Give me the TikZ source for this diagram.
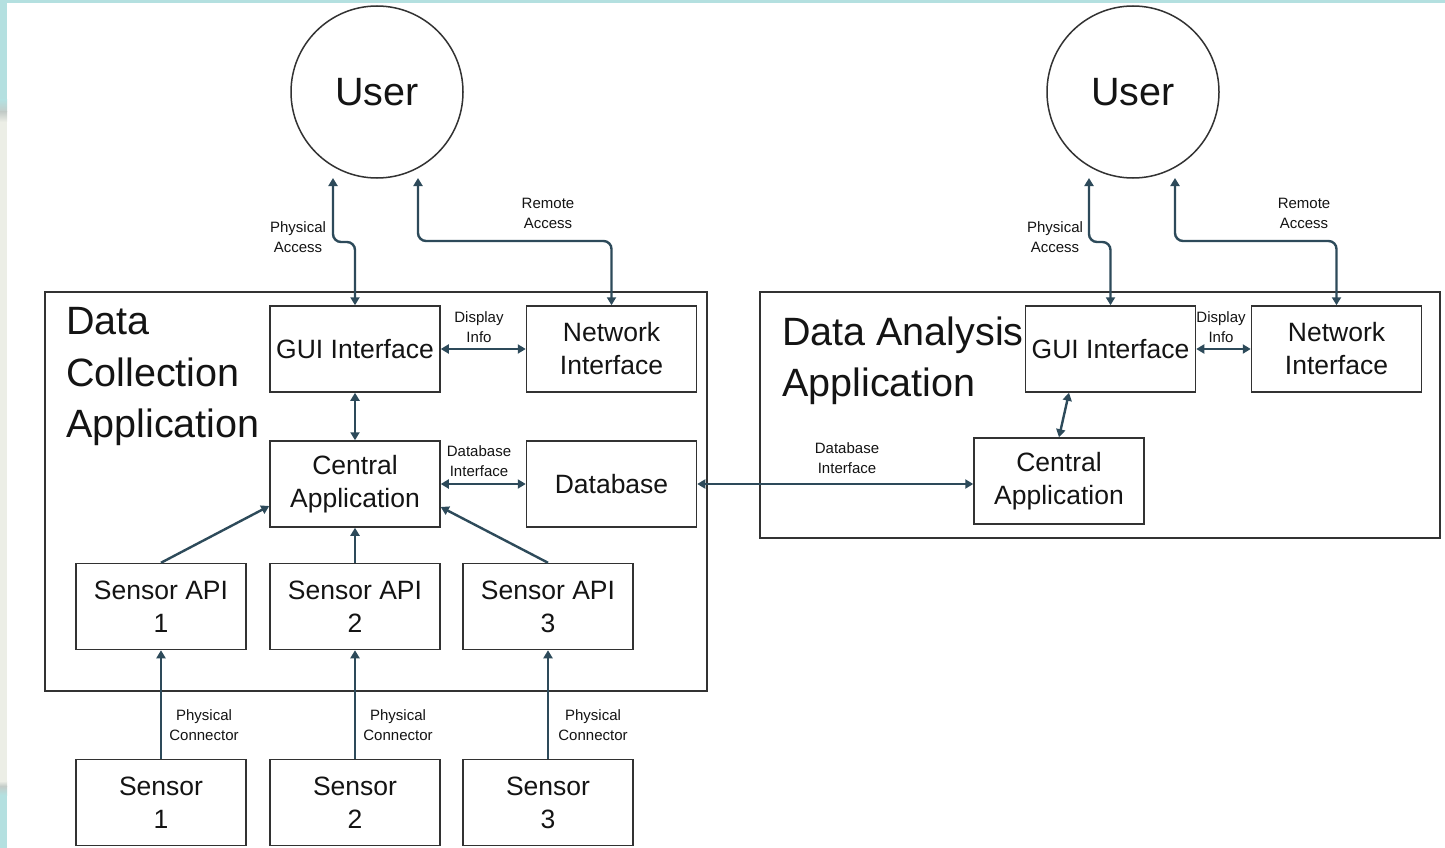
\documentclass[tikz,border=0pt]{standalone}
\usepackage{fontspec}
\setmainfont{Liberation Sans}
\usetikzlibrary{arrows.meta,calc}
\definecolor{link}{RGB}{45,74,90}
\definecolor{frame}{RGB}{50,50,50}
\definecolor{edgeteal}{RGB}{180,224,224}
\definecolor{edgecream}{RGB}{236,238,230}
\definecolor{edgegrey}{RGB}{196,204,200}
\definecolor{txt}{RGB}{20,20,20}
\tikzset{
  box/.style={draw=frame, line width=1.5pt, minimum width=170pt, minimum height=86pt,
    inner sep=0pt, align=center, text=txt, font=\fontsize{26.5}{33}\selectfont},
  group/.style={draw=frame, line width=1.5pt},
  person/.style={draw=frame, line width=1.5pt, circle, minimum size=172pt, inner sep=0pt,
    outer sep=0pt, text=txt, font=\fontsize{39.5}{44}\selectfont},
  title/.style={anchor=north west, inner sep=0pt, align=left, text=txt,
    font=\fontsize{39.5}{51.5}\selectfont},
  lbl/.style={align=center, inner sep=0pt, text=txt, font=\fontsize{15}{20}\selectfont},
  tip/.style={-{Triangle[width=9pt,length=8pt]}, link, line width=2.4pt},
  both/.style={{Triangle[width=9pt,length=8pt]}-{Triangle[width=9pt,length=8pt]}, link, line width=2.4pt},
}
\begin{document}
\begin{tikzpicture}[x=1pt,y=-1pt]
  % page area
  \useasboundingbox (0,0) rectangle (1445,848);
  \fill[white] (0,0) rectangle (1445,848);
  % window edge along the top and left
  \fill[edgeteal] (0,0) rectangle (1445,3);
  \fill[edgeteal] (0,0) rectangle (7,100);
  \shade[top color=edgeteal, bottom color=edgegrey] (0,100) rectangle (7,112);
  \shade[top color=edgegrey, bottom color=edgecream] (0,112) rectangle (7,122);
  \fill[edgecream] (0,122) rectangle (7,781);
  \shade[top color=edgecream, bottom color=edgegrey] (0,781) rectangle (7,786);
  \shade[top color=edgegrey, bottom color=edgeteal] (0,786) rectangle (7,795);
  \fill[edgeteal] (0,795) rectangle (7,848);

  % application frames
  \draw[group] (45,292) rectangle (707,691);
  \draw[group] (760,292) rectangle (1440,538);
  \node[title] at (66,307.5) {Data\\Collection\\Application};
  \node[title] at (782,316.5) {Data Analysis\\Application};

  % users
  \node[person] (uL) at (377,92) {User};
  \node[person] (uR) at (1133,92) {User};

  % data collection application
  \node[box] (guiL) at (355,349) {GUI Interface};
  \node[box] (netL) at (611.5,349) {Network\\Interface};
  \node[box] (cenL) at (355,484) {Central\\Application};
  \node[box] (db)   at (611.5,484) {Database};
  \node[box] (api1) at (161,606.5) {Sensor API\\1};
  \node[box] (api2) at (355,606.5) {Sensor API\\2};
  \node[box] (api3) at (548,606.5) {Sensor API\\3};
  \node[box] (s1) at (161,802.5) {Sensor\\1};
  \node[box] (s2) at (355,802.5) {Sensor\\2};
  \node[box] (s3) at (548,802.5) {Sensor\\3};

  % data analysis application
  \node[box] (guiR) at (1110.5,349) {GUI Interface};
  \node[box] (netR) at (1336.5,349) {Network\\Interface};
  \node[box] (cenR) at (1059,481) {Central\\Application};

  % user access paths
  \draw[both, rounded corners=8pt] ([xshift=-44pt]uL.south) -- ++(0,64) -| (guiL.north);
  \draw[both, rounded corners=8pt] ([xshift=41pt]uL.south) -- ++(0,63) -| (netL.north);
  \draw[both, rounded corners=8pt] ([xshift=-44pt]uR.south) -- ++(0,64) -| (guiR.north);
  \draw[both, rounded corners=8pt] ([xshift=42pt]uR.south) -- ++(0,63) -| (netR.north);
  \node[lbl] at (298,237) {Physical\\Access};
  \node[lbl] at (548,213) {Remote\\Access};
  \node[lbl] at (1055,237) {Physical\\Access};
  \node[lbl] at (1304,213) {Remote\\Access};

  % internal links
  \draw[both] (guiL.east) -- (netL.west);
  \node[lbl] at (479,327) {Display\\Info};
  \draw[both] (guiL.south) -- (cenL.north);
  \draw[both] (cenL.east) -- (db.west);
  \node[lbl] at (479,461) {Database\\Interface};
  \draw[both] (db.east) -- (db.east -| cenR.west);
  \node[lbl] at (847,458) {Database\\Interface};
  \draw[both] (guiR.east) -- (netR.west);
  \node[lbl] at (1221,327) {Display\\Info};
  \draw[both] ([xshift=-41.5pt]guiR.south) -- (cenR.north);

  % sensor APIs feed the central application
  \draw[tip] (api1.north) -- ([yshift=-22pt]cenL.west);
  \draw[tip] (api2.north) -- (cenL.south);
  \draw[tip] (api3.north) -- ([yshift=-23pt]cenL.east);

  % sensors wired to their APIs
  \draw[tip] (s1.north) -- (api1.south);
  \draw[tip] (s2.north) -- (api2.south);
  \draw[tip] (s3.north) -- (api3.south);
  \node[lbl] at (204,725) {Physical\\Connector};
  \node[lbl] at (398,725) {Physical\\Connector};
  \node[lbl] at (593,725) {Physical\\Connector};
\end{tikzpicture}
\end{document}
